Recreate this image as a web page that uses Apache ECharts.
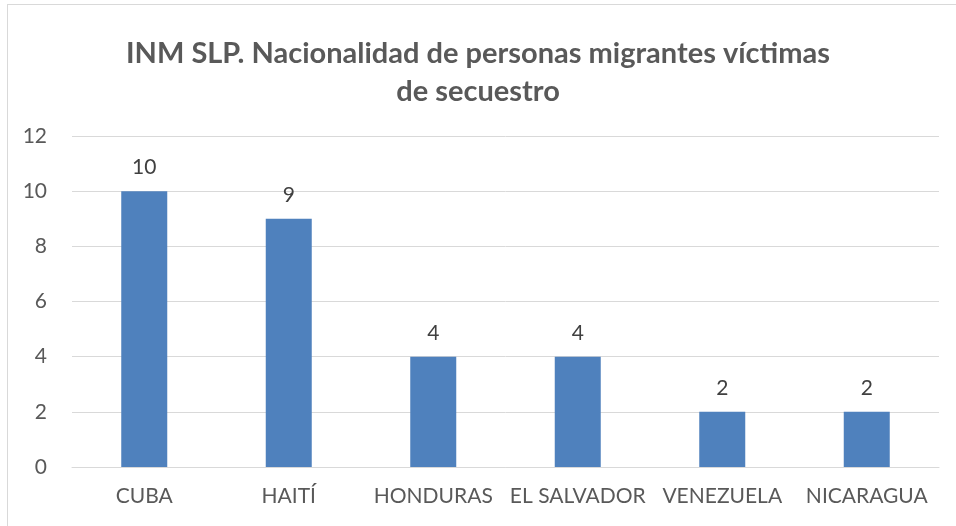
<!DOCTYPE html>
<html>
<head>
<meta charset="utf-8">
<script src="https://cdn.jsdelivr.net/npm/echarts@6/dist/echarts.min.js"></script>
<style>
  html, body { margin: 0; padding: 0; background: #fff; }
  #frame { position: absolute; left: 7px; top: 4px; width: 960px; height: 530px; border: 1px solid #d9d9d9; box-sizing: border-box; }
  #chart { position: absolute; left: 0; top: 0; width: 956px; height: 526px; }
</style>
</head>
<body>
<div id="frame"></div>
<div id="chart"></div>
<script>
// datos
const paises = ['CUBA', 'HAITÍ', 'HONDURAS', 'EL SALVADOR', 'VENEZUELA', 'NICARAGUA'];
const victimas = [10, 9, 4, 4, 2, 2];

let chart = echarts.init(document.getElementById('chart'));
let option = {
    animation: false,
    title: {
        text: 'INM SLP. Nacionalidad de personas migrantes víctimas\nde secuestro',
        left: 'center',
        top: 30,
        textStyle: {
            color: '#595959',
            fontFamily: 'Lato',
            fontWeight: 'bold',
            fontSize: 29,
            lineHeight: 38
        }
    },
    grid: {
        left: 72,
        right: 17,
        top: 136,
        bottom: 59
    },
    xAxis: {
        type: 'category',
        data: paises,
        axisTick: { show: false },
        axisLine: { lineStyle: { color: '#d9d9d9' } },
        axisLabel: {
            color: '#595959',
            fontFamily: 'Lato',
            fontSize: 21,
            margin: 19,
            interval: 0
        }
    },
    yAxis: {
        type: 'value',
        min: 0,
        max: 12,
        interval: 2,
        axisLine: { show: false },
        axisTick: { show: false },
        splitLine: { lineStyle: { color: '#d9d9d9', width: 1 } },
        axisLabel: {
            color: '#595959',
            fontFamily: 'Lato',
            fontSize: 21,
            margin: 25
        }
    },
    series: [{
        type: 'bar',
        data: victimas,
        barWidth: 46,
        itemStyle: { color: '#4f81bd' },
        label: {
            show: true,
            position: 'top',
            distance: 13,
            color: '#404040',
            fontFamily: 'Lato',
            fontSize: 21
        }
    }]
};
chart.setOption(option);
</script>
</body>
</html>
